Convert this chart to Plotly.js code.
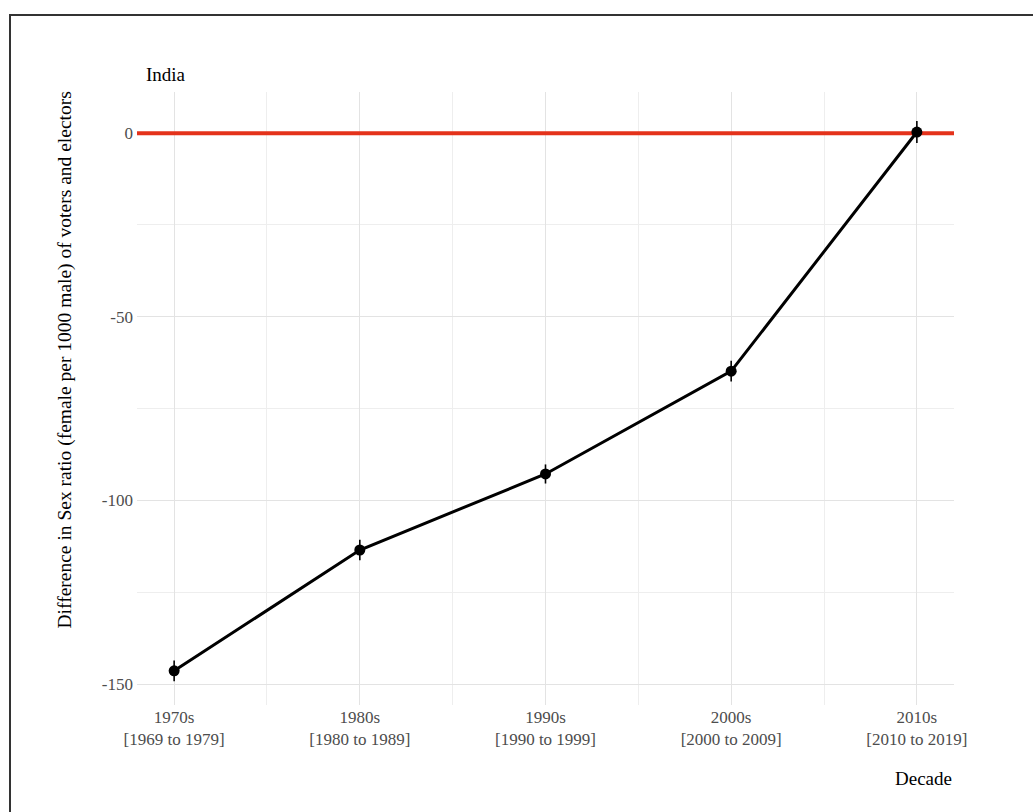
<!DOCTYPE html>
<html>
<head>
<meta charset="utf-8">
<script src="https://cdn.plot.ly/plotly-3.0.1.min.js"></script>
<style>
  html, body { margin: 0; padding: 0; background: #ffffff; }
  #wrap { position: relative; width: 1033px; height: 812px; overflow: hidden; }
  #frame { position: absolute; left: 9px; top: 14px; width: 1040px; height: 820px;
           border-left: 2px solid #333333; border-top: 2px solid #333333; pointer-events: none; }
  #chart { position: absolute; left: 0; top: 0; width: 1033px; height: 812px; }
</style>
</head>
<body>
<div id="wrap">
  <div id="chart"></div>
  <div id="frame"></div>
</div>
<script>
// Decades and their year spans
const decades = ["1970s", "1980s", "1990s", "2000s", "2010s"];
const spans = ["[1969 to 1979]", "[1980 to 1989]", "[1990 to 1999]", "[2000 to 2009]", "[2010 to 2019]"];

// Difference in sex ratio (female per 1000 male), voters vs electors
const diffValues = [-146.4, -113.5, -92.8, -64.8, 0.3];
// Half-width of the uncertainty interval around each estimate
const diffErrors = [2.8, 2.8, 2.6, 2.8, 3.0];

// Parity reference level
const parityLevel = 0;

const yTickVals = [0, -50, -100, -150];

const xPos = decades.map((d, i) => i);
const xTickText = decades.map((d, i) => d + "<br>" + spans[i]);
const xRange = [-0.2, decades.length - 1 + 0.2];

const serif = "Liberation Serif, Times New Roman, serif";

// Horizontal parity line across the whole panel, under the series
const parityTrace = {
  x: xRange,
  y: xRange.map(() => parityLevel),
  type: "scatter",
  mode: "lines",
  line: { color: "#e4321b", width: 4 },
  hoverinfo: "skip",
  showlegend: false
};

const trace = {
  x: xPos,
  y: diffValues,
  type: "scatter",
  mode: "lines+markers",
  line: { color: "#000000", width: 3 },
  marker: { color: "#000000", size: 11 },
  error_y: { type: "data", array: diffErrors, visible: true, color: "#000000", thickness: 1.6, width: 0 },
  hoverinfo: "x+y",
  showlegend: false
};

const layout = {
  width: 1033,
  height: 812,
  margin: { l: 137, r: 79, t: 92, b: 107 },
  paper_bgcolor: "#ffffff",
  plot_bgcolor: "#ffffff",
  font: { family: serif, size: 17, color: "#4d4d4d" },
  xaxis: {
    range: xRange,
    tickvals: xPos,
    ticktext: xTickText,
    showgrid: true,
    gridcolor: "#e3e3e3",
    gridwidth: 1,
    zeroline: false,
    showline: false,
    ticks: "",
    tickfont: { family: serif, size: 17, color: "#4d4d4d" },
    minor: { tickvals: [0.5, 1.5, 2.5, 3.5], showgrid: true, gridcolor: "#eeeeee", gridwidth: 1 }
  },
  yaxis: {
    range: [-155.7, 11.2],
    tickvals: yTickVals,
    ticktext: yTickVals.map(String),
    showgrid: true,
    gridcolor: "#e3e3e3",
    gridwidth: 1,
    zeroline: false,
    showline: false,
    ticks: "",
    ticklabelstandoff: 3,
    tickfont: { family: serif, size: 17, color: "#4d4d4d" },
    minor: { tickvals: [-25, -75, -125], showgrid: true, gridcolor: "#eeeeee", gridwidth: 1 }
  },
  annotations: [
    {
      text: "India", xref: "paper", yref: "paper", x: 0.008, y: 1.0, yshift: 5,
      xanchor: "left", yanchor: "bottom", showarrow: false,
      font: { family: serif, size: 19, color: "#000000" }
    },
    {
      text: "Difference in Sex ratio (female per 1000 male) of voters and electors",
      xref: "paper", yref: "paper", x: 0, xshift: -72, y: 0.562,
      xanchor: "center", yanchor: "middle", textangle: -90, showarrow: false,
      font: { family: serif, size: 19.5, color: "#000000" }
    },
    {
      text: "Decade", xref: "paper", yref: "paper", x: 1.0, y: 0, yshift: -61,
      xanchor: "right", yanchor: "top", showarrow: false,
      font: { family: serif, size: 19, color: "#000000" }
    }
  ]
};

Plotly.newPlot("chart", [parityTrace, trace], layout, { displayModeBar: false, staticPlot: true });
</script>
</body>
</html>
